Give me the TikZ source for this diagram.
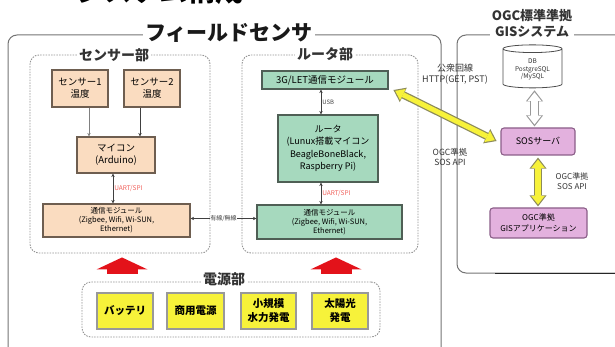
\documentclass[tikz,border=0pt]{standalone}
\usepackage{fontspec}
\setmainfont{Noto Sans CJK JP}
\usetikzlibrary{arrows.meta,shapes.geometric,calc}
\definecolor{peach}{HTML}{FADCC0}
\definecolor{peachline}{HTML}{6E5E50}
\definecolor{mint}{HTML}{A6D9BE}
\definecolor{mintline}{HTML}{4F5F55}
\definecolor{pinkf}{HTML}{E3B1DE}
\definecolor{pinkline}{HTML}{8B5E88}
\definecolor{ylw}{HTML}{F7F23A}
\definecolor{ylwline}{HTML}{8C8A5A}
\definecolor{redarr}{HTML}{E3121A}
\definecolor{uartc}{HTML}{F0605A}
\tikzset{
 box/.style={draw, line width=1.1pt, inner sep=0pt, align=center, font=\fontsize{9.5}{12}\selectfont, text=black},
 sbox/.style={box, fill=peach, draw=peachline},
 rbox/.style={box, fill=mint, draw=mintline},
 gbox/.style={box, fill=pinkf, draw=pinkline, rounded corners=3pt},
 pbox/.style={box, fill=ylw, draw=gray!80, line width=1.3pt, font=\bfseries\fontsize{10.5}{14}\selectfont},
 sec/.style={draw=gray!85, dash pattern=on 1.5pt off 1.2pt, line width=0.9pt, rounded corners=9pt, inner sep=0pt},
 outer/.style={draw=gray!90!black, line width=1pt, rounded corners=9pt},
 sectitle/.style={fill=white, inner xsep=2pt, inner ysep=0pt, font=\bfseries\fontsize{14}{14}\selectfont, text=black!80},
 conn/.style={line width=0.8pt, draw=black!75},
 mytip/.tip={Stealth[length=3.5pt,width=3.4pt]},
 lab/.style={font=\fontsize{6}{7}\selectfont, text=black!75, inner sep=1pt},
 uart/.style={font=\fontsize{6.5}{7}\selectfont, text=uartc, inner sep=1pt},
 glab/.style={font=\fontsize{8.5}{10}\selectfont, text=black!80, align=center, inner sep=0pt},
 redarrow/.style={line width=31pt, draw=redarr, -{Triangle[width=51pt,length=12pt,line width'=0pt]}},
}
\begin{document}
\begin{tikzpicture}[x=1pt,y=-1pt]
\useasboundingbox (0,0) rectangle (615,347);
% cut-off headline
\node[anchor=base, inner sep=0pt, font=\bfseries\fontsize{28}{28}\selectfont] (head) at (160,2) {システム構成};
% outer frames
\node[outer, minimum width=433pt, minimum height=330pt] (field) at (224.5,200) {};
\node[fill=white, inner xsep=2pt, inner ysep=0pt, font=\bfseries\fontsize{21}{21}\selectfont, text=black!90] (fieldt) at (229,33) {フィールドセンサ};
\node[outer, minimum width=200pt, minimum height=238pt] (gis) at (557,154) {};
\draw[line width=1.2pt, black!85] (gis.south -| 495,0) -- (gis.south -| 615,0);
\node[fill=white, inner xsep=2pt, inner ysep=1pt, align=center, font=\bfseries\fontsize{13}{16}\selectfont, text=black!80] (gist) at (532,23) {OGC標準準拠\\GISシステム};
% sections
\node[sec, minimum width=180pt, minimum height=198pt] (sensec) at (120,154) {};
\node[sectitle] (sensect) at (114,55) {センサー部};
\node[sec, minimum width=176pt, minimum height=198pt] (rsec) at (330,154) {};
\node[sectitle] (rsect) at (325,54) {ルータ部};
\node[sec, minimum width=298pt, minimum height=55pt] (pwsec) at (231,309.5) {};
\node[sectitle] (pwsect) at (224,279) {電源部};
% sensor part
\node[sbox, minimum width=56pt, minimum height=37pt] (s1) at (80,88.5) {センサー1\\温度};
\node[sbox, minimum width=56pt, minimum height=37pt] (s2) at (152,88.5) {センサー2\\温度};
\node[sbox, minimum width=78pt, minimum height=36pt] (mcu) at (116,155) {マイコン\\(Arduino)};
\node[sbox, minimum width=147pt, minimum height=33pt, font=\fontsize{7.5}{9}\selectfont] (scomm) at (116.5,220.5) {通信モジュール\\(Zigbee, Wifi, Wi-SUN,\\Ethernet)};
\draw[conn, draw=black!50, -mytip] ([xshift=9pt]s1.south) -- ([xshift=9pt]s1.south |- mcu.north);
\draw[conn, -mytip] ([xshift=-12pt]s2.south) -- ([xshift=-12pt]s2.south |- mcu.north);
\draw[conn, mytip-mytip] ([xshift=-3pt]mcu.south) -- ([xshift=-3pt]mcu.south |- scomm.north) node[midway, right, uart] (u1) {UART/SPI};
% router part
\node[rbox, minimum width=126pt, minimum height=18pt] (g3) at (325,80) {3G/LET通信モジュール};
\node[rbox, minimum width=100pt, minimum height=67pt, font=\fontsize{9}{12.3}\selectfont] (router) at (328,148.5) {ルータ\\(Lunux搭載マイコン\\BeagleBoneBlack,\\Raspberry Pi)};
\node[rbox, minimum width=145pt, minimum height=34pt, font=\fontsize{7.5}{9}\selectfont] (rcomm) at (329.5,222) {通信モジュール\\(Zigbee, Wifi, Wi-SUN,\\Ethernet)};
\draw[conn, mytip-mytip] ([xshift=-4pt]g3.south) -- ([xshift=-4pt]g3.south |- router.north) node[midway, right, lab] (usb) {USB};
\draw[conn, mytip-mytip] ([xshift=-7pt]router.south) -- ([xshift=-7pt]router.south |- rcomm.north) node[midway, right, uart] (u2) {UART/SPI};
\draw[conn, mytip-mytip] ([yshift=2pt]scomm.east) -- ([yshift=2pt]scomm.east -| rcomm.west) node[midway, fill=white, lab, inner xsep=0.5pt] (wire) {有線/無線};
% power part
\node[pbox, minimum width=56pt, minimum height=36pt] (bat) at (125,311) {バッテリ};
\node[pbox, minimum width=57pt, minimum height=36pt] (grid) at (195.5,311) {商用電源};
\node[pbox, minimum width=55pt, minimum height=36pt] (hydro) at (268.5,311) {小規模\\水力発電};
\node[pbox, minimum width=56pt, minimum height=36pt] (solar) at (340,311) {太陽光\\発電};
\draw[redarrow, shorten <=8pt, shorten >=4pt] ([xshift=2pt]sensec.south |- pwsec.north) -- ([xshift=2pt]sensec.south);
\draw[redarrow, shorten <=8pt, shorten >=4pt] ([xshift=6pt]rsec.south |- pwsec.north) -- ([xshift=6pt]rsec.south);
% GIS part
\node[cylinder, shape border rotate=90, aspect=0.22, draw=black!70, line width=0.8pt, fill=white, minimum width=59pt, minimum height=43pt, align=center, font=\fontsize{6.5}{7.5}\selectfont, inner sep=0pt, text=black!80] (db) at (532.5,68.5) {\\DB\\PostgreSQL\\/MySQL};
\node[gbox, minimum width=74pt, minimum height=27pt, font=\fontsize{9}{11}\selectfont] (sos) at (538,141.5) {SOSサーバ};
\node[gbox, minimum width=97pt, minimum height=30pt, font=\fontsize{8}{11}\selectfont] (app) at (538.5,223) {OGC準拠\\GISアプリケーション};
% hollow arrow DB <-> SOS
\draw[line width=9pt, draw=gray!80, shorten <=2pt, shorten >=1pt, {Triangle[width=17pt,length=11pt,line width'=0pt]}-{Triangle[width=17pt,length=11pt,line width'=0pt]}] ([xshift=2pt]db.south) -- ([xshift=2pt]db.south |- sos.north);
\draw[line width=6.5pt, draw=white, shorten <=4pt, shorten >=3pt, {Triangle[width=13.5pt,length=8.5pt,line width'=0pt]}-{Triangle[width=13.5pt,length=8.5pt,line width'=0pt]}] ([xshift=2pt]db.south) -- ([xshift=2pt]db.south |- sos.north);
% yellow arrow SOS <-> app
\draw[line width=8.5pt, draw=ylwline, shorten <=2pt, shorten >=1pt, {Triangle[width=17pt,length=11pt,line width'=0pt]}-{Triangle[width=17pt,length=11pt,line width'=0pt]}] (sos.south) -- (sos.south |- app.north);
\draw[line width=6pt, draw=ylw, shorten <=4pt, shorten >=3pt, {Triangle[width=13.5pt,length=8.5pt,line width'=0pt]}-{Triangle[width=13.5pt,length=8.5pt,line width'=0pt]}] (sos.south) -- (sos.south |- app.north);
\node[glab, font=\fontsize{8}{9.5}\selectfont] (apilab) at (572,181) {OGC準拠\\SOS API};
% yellow diagonal arrow 3G <-> SOS
\draw[line width=7.5pt, draw=ylwline, shorten <=1pt, shorten >=1pt, {Triangle[width=16pt,length=11pt,line width'=0pt]}-{Triangle[width=16pt,length=11pt,line width'=0pt]}] ([xshift=4pt]g3.south east) -- ([xshift=-3pt]sos.west);
\draw[line width=5pt, draw=ylw, shorten <=3pt, shorten >=3pt, {Triangle[width=12.5pt,length=8.5pt,line width'=0pt]}-{Triangle[width=12.5pt,length=8.5pt,line width'=0pt]}] ([xshift=4pt]g3.south east) -- ([xshift=-3pt]sos.west);
\node[glab, font=\fontsize{9}{10.5}\selectfont] (httplab) at (455,74) {公衆回線\\HTTP(GET, PST)};
\node[glab] (soslab) at (450,157) {OGC準拠\\SOS API};
\end{tikzpicture}
\end{document}
